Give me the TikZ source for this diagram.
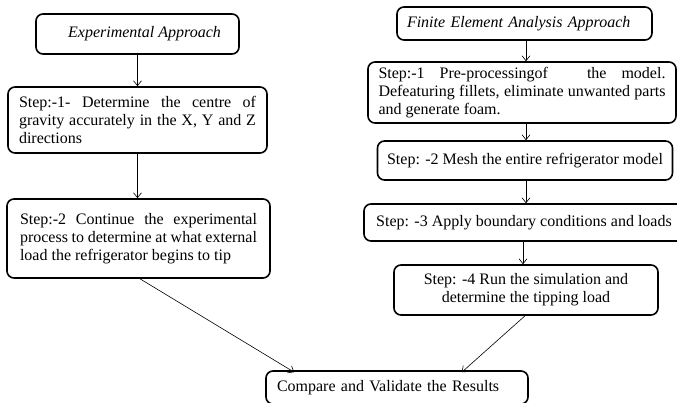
\documentclass[tikz,border=0pt]{standalone}
\usepackage{fontspec}
\setmainfont{Liberation Serif}
\usetikzlibrary{arrows.meta}
\newcommand\flowboxfont{\fontsize{16}{18}\selectfont\hyphenpenalty=10000\relax\exhyphenpenalty=10000\relax}
\begin{document}
\begin{tikzpicture}[x=1pt,y=-1pt,
  box/.style={draw=black,line width=1.6pt,rounded corners=7pt,fill=white,
    inner sep=0pt,font=\flowboxfont},
  flow/.style={draw=black,line width=0.6pt,-{Straight Barb[length=5pt,width=8pt]}}]
\useasboundingbox (0,0) rectangle (677,402);
\clip (0,0) rectangle (677,402);

% left column: experimental route
\node[box,minimum width=203pt,minimum height=40pt] (ea) at (137.5,34)
  {\hspace{14pt}\itshape Experimental Approach};
\node[box,minimum width=259pt,minimum height=66pt,text width=237pt,align=justify] (e1) at (137.5,120)
  {Step:-1- Determine the centre of gravity accurately in the X, Y and Z directions};
\node[box,minimum width=263pt,minimum height=79pt,text width=237pt,align=justify] (e2) at (138.5,238.5)
  {Step:-2 Continue the experimental process to determine at what external load the refrigerator begins to tip};

% right column: finite element route
\node[box,minimum width=255pt,minimum height=33pt,text width=235pt,align=left] (fa) at (524.5,23.5)
  {\itshape Finite Element Analysis Approach};
\node[box,minimum width=308pt,minimum height=61pt,text width=287pt,align=justify] (f1) at (522,92.5)
  {Step:-1 Pre-processingof\hspace{1.5em} the model. Defeaturing fillets, eliminate unwanted parts and generate foam.};
\node[box,minimum width=295pt,minimum height=39pt] (f2) at (525,160.5)
  {Step: -2 Mesh the entire refrigerator model};
\node[box,minimum width=320pt,minimum height=37pt] (f3) at (524,222.5)
  {Step: -3 Apply boundary conditions and loads};
\node[box,minimum width=264pt,minimum height=50pt,align=center] (f4) at (526,290)
  {Step: -4 Run the simulation and\\ determine the tipping load};

% common end
\node[box,minimum width=262pt,minimum height=33pt,text width=240pt,align=left] (cmp) at (397,387.5)
  {Compare and Validate the Results};

% connectors
\draw[flow] (ea.south) -- (ea.south |- e1.north);
\draw[flow] (e1.south) -- (e1.south |- e2.north);
\draw[flow] ([xshift=1.5pt]e2.south) -- ([xshift=29pt,yshift=-2pt]cmp.north west);
\draw[flow] ([xshift=1.5pt]fa.south) -- ([xshift=1.5pt]fa.south |- f1.north);
\draw[flow] ([xshift=4pt]f1.south) -- ([xshift=4pt]f1.south |- f2.north);
\draw[flow] ([xshift=1pt]f2.south) -- ([xshift=1pt]f2.south |- f3.north);
\draw[flow] ([xshift=-1pt]f3.south) -- ([xshift=-1pt]f3.south |- f4.north);
\draw[flow] ([xshift=-1pt]f4.south) -- ([xshift=-67pt,yshift=-2pt]cmp.north east);
\end{tikzpicture}
\end{document}
